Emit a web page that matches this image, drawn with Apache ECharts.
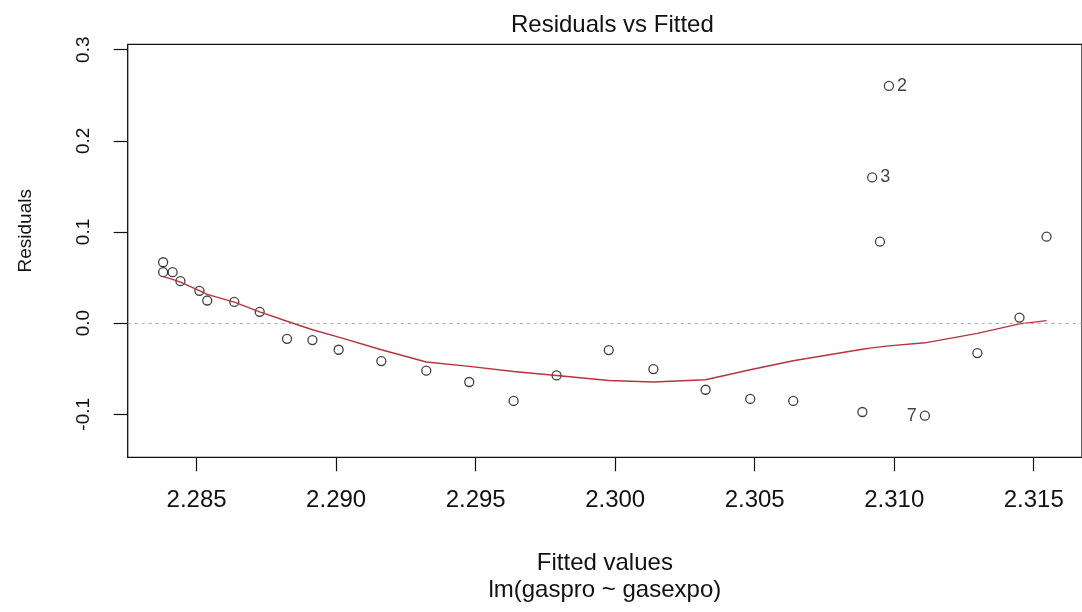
<!DOCTYPE html>
<html>
<head>
<meta charset="utf-8">
<script src="https://cdn.jsdelivr.net/npm/echarts@6/dist/echarts.min.js"></script>
<style>
html,body{margin:0;padding:0;background:#fff;}
#chart{width:1082px;height:612px;}
</style>
</head>
<body>
<div id="chart"></div>
<script>
// ---- data ----
const fitted = [2.28380, 2.28380, 2.28414, 2.28442, 2.28510, 2.28538, 2.28635, 2.28726, 2.28824, 2.28915,
  2.29009, 2.29162, 2.29323, 2.29477, 2.29636, 2.29790, 2.29977, 2.30137, 2.30324, 2.30484,
  2.30638, 2.30886, 2.30921, 2.30949, 2.30981, 2.31110, 2.31298, 2.31449, 2.31546];
const residuals = [0.0668, 0.0559, 0.0559, 0.0460, 0.0354, 0.0248, 0.0233, 0.0124, -0.0172, -0.0186,
  -0.0292, -0.0416, -0.0522, -0.0646, -0.0854, -0.0574, -0.0296, -0.0504, -0.0731, -0.0832,
  -0.0854, -0.0975, 0.1599, 0.0894, 0.2602, -0.1015, -0.0329, 0.0061, 0.0949];
// smoother values at each distinct fitted value
const smoothY = [0.0510, 0.0480, 0.0449, 0.0357, 0.0315, 0.0230, 0.0124, 0.0021, -0.0073, -0.0153,
  -0.0292, -0.0427, -0.0475, -0.0530, -0.0574, -0.0629, -0.0646, -0.0621, -0.0512, -0.0413,
  -0.0287, -0.0271, -0.0260, -0.0249, -0.0216, -0.0112, -0.0008, 0.0028];
const labelIndex = [24, 22, 25];
const labelText = ['2', '3', '7'];
const labelSide = ['right', 'right', 'left'];
const xTicks = [2.285, 2.290, 2.295, 2.300, 2.305, 2.310, 2.315];
const yTicks = [-0.1, 0.0, 0.1, 0.2, 0.3];
const titleText = 'Residuals vs Fitted';
const xTitle = 'Fitted values\nlm(gaspro ~ gasexpo)';
const yTitle = 'Residuals';

// ---- build ----
const smoothX = fitted.filter((v, i) => i === 0 || v !== fitted[i - 1]);
const lineData = smoothX.map((x, i) => [x, smoothY[i]]);
const pointData = fitted.map((x, i) => {
  const item = { value: [x, residuals[i]] };
  const k = labelIndex.indexOf(i);
  if (k >= 0) {
    item.label = {
      show: true, formatter: labelText[k], position: labelSide[k], distance: 3,
      fontSize: 18, color: '#111', fontFamily: 'Liberation Sans, Arial, sans-serif'
    };
  }
  return item;
});

const FONT = 'Liberation Sans, Arial, sans-serif';
const chart = echarts.init(document.getElementById('chart'), null, { renderer: 'canvas' });
chart.setOption({
  animation: false,
  backgroundColor: '#fff',
  title: {
    text: titleText, left: 506, top: 8,
    textStyle: { fontFamily: FONT, fontSize: 24, fontWeight: 'normal', color: '#111' }
  },
  grid: {
    left: 127.7, top: 44.3, width: 962, height: 413,
    show: true, borderColor: '#111', borderWidth: 1.3, backgroundColor: 'transparent'
  },
  xAxis: {
    type: 'value', min: 2.28253, max: 2.31673,
    axisLine: { show: false, onZero: false },
    splitLine: { show: false },
    axisTick: { show: true, length: 14, customValues: xTicks, lineStyle: { color: '#111', width: 1.2 } },
    axisLabel: {
      customValues: xTicks, margin: 31, fontFamily: FONT, fontSize: 24, color: '#111',
      formatter: v => v.toFixed(3)
    },
    name: xTitle, nameLocation: 'middle', nameGap: 93,
    nameTextStyle: { fontFamily: FONT, fontSize: 24, color: '#111', lineHeight: 27 }
  },
  yAxis: {
    type: 'value', min: -0.1472, max: 0.3059,
    axisLine: { show: false, onZero: false },
    splitLine: { show: false },
    axisTick: { show: true, length: 14, customValues: yTicks, lineStyle: { color: '#111', width: 1.2 } },
    axisLabel: {
      customValues: yTicks, rotate: 90, margin: 34, fontFamily: FONT, fontSize: 19, color: '#111',
      formatter: v => v.toFixed(1)
    },
    name: yTitle, nameLocation: 'middle', nameGap: 92, nameRotate: 90,
    nameTextStyle: { fontFamily: FONT, fontSize: 19, color: '#111', padding: [0, 0, 0, 40] }
  },
  series: [
    {
      type: 'scatter', data: pointData, symbol: 'circle', symbolSize: 9, z: 2,
      itemStyle: { color: 'rgba(0,0,0,0)', borderColor: '#111', borderWidth: 1.3 },
      markLine: {
        silent: true, symbol: 'none', label: { show: false },
        lineStyle: { color: '#aaa', type: [3, 4], width: 1.2 },
        data: [{ yAxis: 0 }]
      }
    },
    {
      type: 'line', data: lineData, showSymbol: false, symbol: 'none', z: 3,
      lineStyle: { color: '#b8333f', width: 1.4 }
    }
  ]
});
</script>
</body>
</html>
